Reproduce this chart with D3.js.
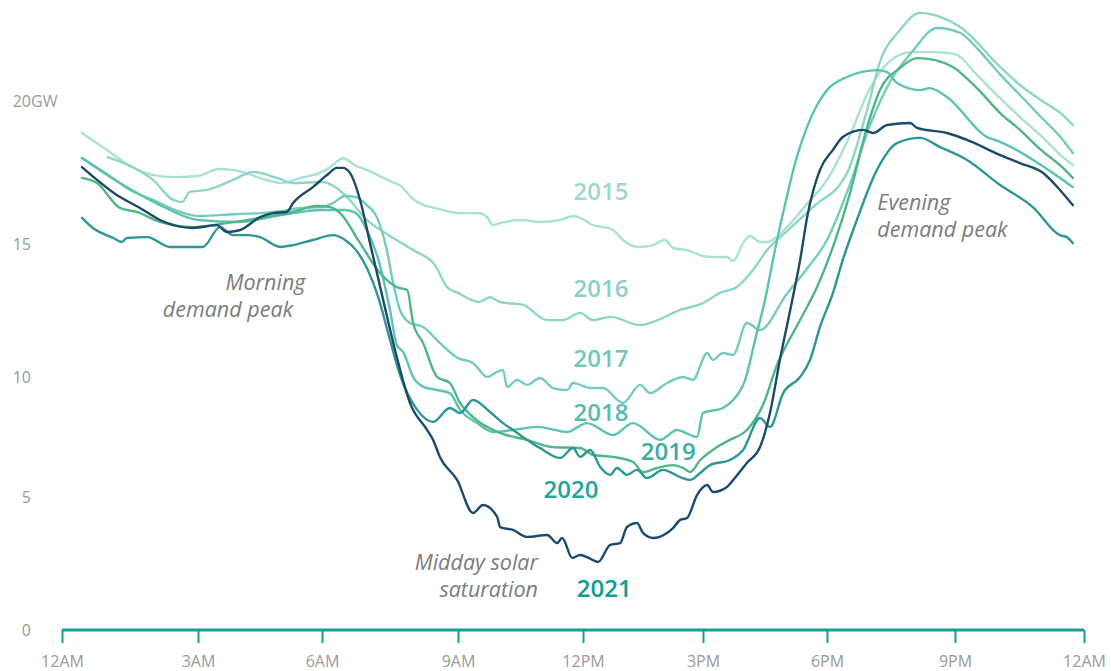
<!DOCTYPE html>
<html>
<head>
<meta charset="utf-8">
<script src="https://cdn.jsdelivr.net/npm/d3@7"></script>
<style>
  body { margin: 0; background: #fff; }
  svg { font-family: "Open Sans", "Noto Sans", sans-serif; }
</style>
</head>
<body>
<div id="chart"></div>
<script>
const WIDTH = 1111;
const HEIGHT = 671;

// hours of day -> GW
const hourTicks = [0, 3, 6, 9, 12, 15, 18, 21, 24];
const hourLabels = ["12AM", "3AM", "6AM", "9AM", "12PM", "3PM", "6PM", "9PM", "12AM"];
const gwTicks = [0, 5, 10, 15, 20];

const years = ["2015", "2016", "2017", "2018", "2019", "2020", "2021"];
const lineColors = ["#a9e2d4", "#8ed7c5", "#74cdb9", "#5cc3ad", "#4fb688", "#2c9794", "#1c4a6b"];
const labelColors = ["#9ed8cc", "#8ad1c5", "#70c7ba", "#55bcb0", "#37ada5", "#1fa59d", "#0b9d96"];

const d2015 = [[0.44,18.88],[0.99,18.29],[1.50,17.73],[2.01,17.41],[2.49,17.34],[3.0,17.38],[3.51,17.62],[3.99,17.55],[4.50,17.31],[5.01,17.13],[5.49,17.31],[6.0,17.52],[6.24,17.76],[6.46,18.0],[6.75,17.73],[6.99,17.59],[7.26,17.38],[7.50,17.20],[7.74,17.03],[8.01,16.57],[8.25,16.36],[8.49,16.26],[8.76,16.15],[9.0,16.08],[9.29,16.08],[9.50,16.08],[9.70,15.94],[9.84,15.66],[10.01,15.73],[10.49,15.84],[10.99,15.77],[11.45,15.84],[11.76,15.98],[12.0,15.87],[12.25,15.66],[12.50,15.59],[12.75,15.49],[13.0,15.14],[13.35,14.89],[13.68,14.92],[14.05,15.14],[14.25,14.85],[14.60,14.77],[15.0,14.55],[15.24,14.51],[15.58,14.51],[15.73,14.36],[15.97,15.03],[16.14,15.28],[16.38,15.07],[16.55,15.07],[17.01,15.56],[17.49,16.36],[18.0,17.24],[18.49,18.64],[19.01,20.45],[19.50,21.43],[19.99,21.71],[20.51,21.71],[21.0,21.64],[21.51,20.91],[22.0,20.17],[22.51,19.44],[23.0,18.78],[23.51,18.04],[23.74,17.76]];

const d2016 = [[1.01,18.04],[1.50,17.73],[2.01,17.24],[2.45,16.54],[2.65,16.47],[2.82,16.82],[3.22,16.89],[3.85,17.24],[4.33,17.52],[4.91,17.31],[5.30,17.13],[6.0,17.17],[6.51,16.71],[6.99,15.84],[7.50,15.28],[8.01,14.77],[8.49,14.21],[8.76,13.38],[9.0,13.16],[9.50,12.82],[9.77,13.0],[10.01,12.82],[10.56,12.71],[11.14,12.14],[11.52,12.14],[11.93,12.41],[12.25,12.14],[12.68,12.26],[13.43,11.95],[13.75,12.07],[14.43,12.52],[15.0,12.78],[15.41,13.16],[15.82,13.38],[16.21,14.02],[16.55,14.77],[17.01,15.42],[17.66,16.29],[18.47,17.48],[18.94,19.69],[19.24,21.36],[19.71,22.48],[20.18,23.08],[20.65,22.94],[21.12,22.59],[22.05,21.19],[22.51,20.56],[23.0,20.03],[23.51,19.51],[23.74,19.16]];

const d2017 = [[0.44,18.01],[0.99,17.45],[1.50,16.89],[2.01,16.54],[2.49,16.19],[3.0,15.98],[3.51,16.01],[3.99,16.05],[4.50,16.08],[5.01,16.15],[5.49,16.26],[6.0,16.29],[6.24,16.43],[6.51,16.68],[6.75,16.64],[6.99,16.36],[7.21,15.94],[7.43,14.77],[7.57,13.53],[7.72,12.52],[7.94,12.03],[8.23,11.88],[8.60,11.28],[9.0,10.71],[9.36,10.53],[9.70,10.0],[9.94,10.19],[10.08,10.26],[10.18,9.58],[10.42,9.88],[10.66,9.67],[10.97,9.96],[11.28,9.54],[11.62,9.46],[11.76,9.75],[12.18,9.54],[12.50,9.54],[13.0,8.92],[13.43,9.67],[13.68,9.33],[14.10,9.75],[14.50,10.0],[14.75,9.88],[15.10,10.90],[15.24,10.64],[15.48,10.90],[15.73,10.83],[16.06,12.03],[16.38,11.77],[17.01,13.08],[17.49,14.02],[18.0,15.14],[18.49,16.89],[19.01,19.16],[19.50,20.73],[19.99,21.71],[20.58,22.55],[21.12,22.38],[21.51,21.85],[22.0,21.01],[22.51,20.21],[23.0,19.44],[23.51,18.64],[23.74,18.18]];

const d2018 = [[0.44,18.01],[1.28,17.13],[2.16,16.36],[3.0,15.84],[3.99,15.77],[5.01,16.01],[6.0,16.19],[6.51,16.19],[6.75,16.08],[6.99,15.49],[7.26,14.32],[7.50,12.52],[7.65,11.20],[7.79,10.94],[8.01,10.0],[8.25,9.58],[8.54,9.46],[8.82,9.33],[9.05,8.63],[9.46,8.08],[9.84,7.71],[10.32,7.79],[10.90,7.92],[11.62,7.71],[12.10,8.08],[12.75,7.58],[13.25,8.08],[13.93,7.38],[14.35,7.79],[14.85,7.50],[15.0,8.50],[15.48,8.71],[15.73,9.04],[16.02,9.88],[16.26,11.39],[16.50,12.89],[16.74,14.77],[17.01,16.54],[17.25,17.94],[17.49,18.99],[17.76,19.86],[18.0,20.38],[18.47,20.84],[19.17,21.08],[19.41,21.01],[19.64,20.63],[20.18,20.38],[20.41,20.45],[20.81,20.14],[21.74,18.74],[22.05,18.57],[22.51,18.22],[23.0,17.76],[23.51,17.24],[23.74,16.99]];

const d2019 = [[0.44,17.31],[0.77,17.13],[1.28,16.26],[1.65,16.12],[2.16,15.77],[2.89,15.59],[3.70,15.73],[4.50,15.91],[5.30,16.12],[5.88,16.33],[6.18,16.29],[6.40,16.08],[6.84,15.03],[7.28,13.91],[7.65,13.38],[7.88,13.27],[8.01,12.03],[8.23,11.28],[8.54,10.0],[8.82,9.75],[9.05,8.92],[9.36,8.33],[10.01,7.67],[10.66,7.38],[11.28,7.08],[11.93,7.04],[12.25,6.75],[12.75,6.67],[13.25,6.46],[13.50,6.04],[13.85,6.21],[14.25,6.33],[14.50,6.21],[14.68,6.04],[14.93,6.54],[15.34,7.08],[15.65,7.38],[16.06,7.79],[16.45,8.83],[16.79,10.45],[17.35,12.14],[17.76,13.38],[18.14,14.89],[18.54,16.78],[18.94,19.09],[19.24,20.38],[19.71,21.15],[20.11,21.50],[20.53,21.43],[20.95,21.19],[21.51,20.45],[22.05,19.58],[22.51,18.99],[23.0,18.29],[23.51,17.66],[23.74,17.31]];

const d2020 = [[0.44,15.91],[0.68,15.56],[1.13,15.21],[1.32,15.07],[1.43,15.21],[1.88,15.24],[2.38,14.89],[3.12,14.89],[3.53,15.59],[3.85,15.31],[4.19,15.31],[4.50,15.24],[4.99,14.89],[5.30,14.96],[5.78,15.14],[6.24,15.31],[6.51,15.14],[6.75,14.77],[6.99,14.10],[7.26,12.89],[7.50,11.39],[7.72,10.08],[8.10,8.63],[8.45,8.13],[8.82,8.71],[9.05,8.50],[9.36,9.04],[9.77,8.54],[10.08,8.08],[10.32,7.79],[10.66,7.38],[10.97,7.04],[11.45,6.63],[11.76,7.04],[11.93,6.67],[12.18,6.96],[12.43,6.25],[12.68,5.92],[12.85,6.21],[13.10,5.92],[13.35,6.13],[13.60,5.79],[14.0,6.13],[14.43,5.83],[14.68,5.71],[14.93,6.0],[15.17,6.33],[15.65,6.54],[15.97,6.96],[16.38,8.29],[16.62,7.92],[16.94,9.33],[17.35,10.0],[17.59,10.64],[17.83,11.88],[18.14,13.16],[18.37,14.40],[18.70,15.84],[19.17,17.59],[19.64,18.53],[20.18,18.71],[20.65,18.39],[21.28,17.94],[22.05,17.06],[22.81,16.29],[23.44,15.31],[23.60,15.24],[23.74,15.03]];

const d2021 = [[0.44,17.69],[1.28,16.64],[1.72,16.26],[2.16,15.84],[2.89,15.56],[3.46,15.66],[3.70,15.42],[4.02,15.49],[4.50,15.94],[4.81,16.08],[5.15,16.12],[5.30,16.43],[5.78,16.99],[6.11,17.41],[6.33,17.66],[6.46,17.66],[6.62,17.48],[6.84,16.54],[7.06,15.03],[7.35,12.89],[7.65,10.75],[7.94,8.92],[8.32,7.79],[8.45,7.38],[8.60,6.67],[8.98,5.71],[9.36,4.40],[9.60,4.70],[9.94,4.25],[10.01,3.87],[10.32,3.76],[10.66,3.50],[11.14,3.57],[11.38,3.27],[11.50,3.46],[11.74,2.71],[11.93,2.82],[12.10,2.74],[12.38,2.56],[12.68,3.20],[12.93,3.27],[13.10,3.87],[13.35,4.02],[13.50,3.65],[13.75,3.46],[14.10,3.65],[14.25,3.83],[14.43,4.14],[14.60,4.21],[14.85,5.08],[15.10,5.50],[15.24,5.21],[15.58,5.42],[15.73,5.71],[16.06,6.42],[16.38,7.08],[16.62,8.50],[16.86,10.64],[17.11,12.52],[17.35,14.40],[17.52,15.94],[17.83,17.59],[18.14,18.29],[18.37,18.74],[18.84,18.99],[19.08,18.88],[19.41,19.16],[19.95,19.23],[20.11,19.06],[20.81,18.88],[21.28,18.64],[22.05,18.11],[22.51,17.83],[23.05,17.48],[23.44,16.89],[23.74,16.36]];

const seriesData = [d2015, d2016, d2017, d2018, d2019, d2020, d2021];

// year label anchors [hour, GW]
const labelHours = [12.45, 12.45, 12.45, 12.45, 14.13, 11.71, 12.53];
const labelGW = [16.82, 13.31, 10.71, 8.5, 6.88, 5.29, 1.54];

const svg = d3
  .select("#chart")
  .append("svg")
  .attr("width", WIDTH)
  .attr("height", HEIGHT);

// scales (reference spacing is slightly uneven, so piecewise)
const x = d3.scaleLinear().domain(hourTicks).range([62, 198, 322, 458, 583, 703, 827, 955, 1084]);
const y = d3.scaleLinear().domain(gwTicks).range([630, 497, 377, 244, 101]);

// Y LABELS
svg
  .append("g")
  .selectAll("text")
  .data(gwTicks)
  .join("text")
  .attr("x", 31)
  .attr("y", (d) => y(d))
  .attr("dy", "0.35em")
  .attr("text-anchor", "end")
  .attr("font-size", "16px")
  .style("fill", "#9a9a9a")
  .text((d) => d);

svg
  .append("text")
  .attr("x", 31)
  .attr("y", y(20))
  .attr("dy", "0.35em")
  .attr("font-size", "16px")
  .style("fill", "#9a9a9a")
  .text("GW");

// LINES
const line = d3
  .line()
  .x((d) => x(d[0]))
  .y((d) => y(d[1]))
  .curve(d3.curveMonotoneX);

svg
  .append("g")
  .selectAll("path")
  .data(seriesData)
  .join("path")
  .attr("d", line)
  .attr("fill", "none")
  .attr("stroke", (d, i) => lineColors[i])
  .attr("stroke-width", 2.4)
  .attr("stroke-linejoin", "round")
  .attr("stroke-linecap", "round");

// YEAR LABELS
svg
  .append("g")
  .selectAll("text")
  .data(years)
  .join("text")
  .attr("x", (d, i) => x(labelHours[i]))
  .attr("y", (d, i) => y(labelGW[i]))
  .attr("dy", "0.35em")
  .attr("text-anchor", "middle")
  .attr("font-size", "24px")
  .attr("font-weight", 600)
  .style("fill", (d, i) => labelColors[i])
  .text((d) => d);

// ANNOTATIONS (per-line hour offsets follow the reference's ragged italic setting)
const notes = [
  { lines: ["Morning", "demand peak"], x: [5.6, 5.3], y: 13.55, anchor: "end" },
  { lines: ["Evening", "demand peak"], x: [19.18, 19.18], y: 16.45, anchor: "start" },
  { lines: ["Midday solar", "saturation"], x: [10.92, 10.92], y: 2.55, anchor: "end" }
];

notes.forEach((n) => {
  const t = svg
    .append("text")
    .attr("y", y(n.y))
    .attr("text-anchor", n.anchor)
    .attr("font-size", "21.5px")
    .attr("font-style", "italic")
    .style("fill", "#7c7c7c");
  n.lines.forEach((l, i) => {
    t.append("tspan")
      .attr("x", x(n.x[i]))
      .attr("dy", i === 0 ? "0.35em" : "1.25em")
      .text(l);
  });
});

// X AXIS
const xAxis = svg
  .append("g")
  .attr("transform", `translate(0, ${y(0)})`)
  .call(d3.axisBottom(x).tickValues(hourTicks).tickFormat((d, i) => hourLabels[i]).tickSize(13).tickPadding(13));

xAxis.select(".domain").attr("stroke", "#169e97").attr("stroke-width", 3).attr("d", `M${x(0)},0H${x(24)}`);
xAxis.selectAll(".tick line").attr("stroke", "#169e97").attr("stroke-width", 2);
xAxis.selectAll(".tick text").attr("font-size", "16px").attr("font-family", "Open Sans, sans-serif").style("fill", "#9a9a9a");
</script>
</body>
</html>
